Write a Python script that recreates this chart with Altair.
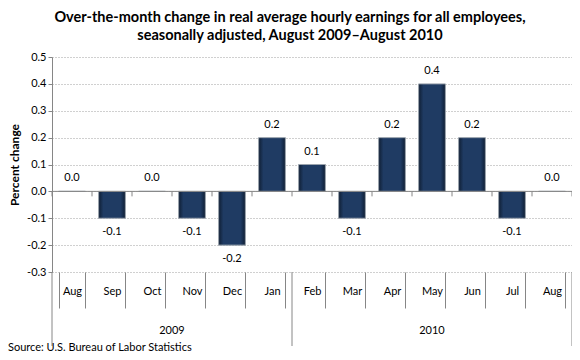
import altair as alt
import pandas as pd
import json

# ---- data ----
months = ["Aug", "Sep", "Oct", "Nov", "Dec", "Jan", "Feb", "Mar", "Apr", "May", "Jun", "Jul", "Aug"]
values = [0.0, -0.1, 0.0, -0.1, -0.2, 0.2, 0.1, -0.1, 0.2, 0.4, 0.2, -0.1, 0.0]
year_labels = ["2009", "2010"]
year_counts = [6, 7]
y_ticks = [-0.3, -0.2, -0.1, 0.0, 0.1, 0.2, 0.3, 0.4, 0.5]
title_lines = [
    "Over-the-month change in real average hourly earnings for all employees,",
    "seasonally adjusted, August 2009\u2013August 2010",
]
source_text = "Source: U.S. Bureau of Labor Statistics"

n = len(months)
df = pd.DataFrame({"idx": list(range(n)), "month": months, "value": values})
pos_df = df[df["value"] >= 0]
neg_df = df[df["value"] < 0]

starts, ends, s = [], [], 0
for c in year_counts:
    starts.append(s)
    ends.append(s + c)
    s += c
years_df = pd.DataFrame({"year": year_labels, "mid": [(a + b) / 2 for a, b in zip(starts, ends)]})
bounds_df = pd.DataFrame({"b": list(range(n + 1))})
sep_df = pd.DataFrame({"b": [0] + ends})
src_df = pd.DataFrame({"t": [source_text]})

W, H = 520, 215
PI = 0.33
FONT = "Lato"
GRAY = "#868686"
MINUS_FIX = "replace(format(datum.value, '.1f'), '\u2212', '-')"

label_expr = json.dumps(months) + "[datum.value]"

xband = alt.X(
    "idx:O",
    scale=alt.Scale(paddingInner=PI, paddingOuter=PI / 2),
    axis=alt.Axis(
        title=None, labelExpr=label_expr, labelAngle=0, tickBand="extent",
        tickSize=36, tickColor=GRAY, domain=False, labelPadding=-17,
        labelFontSize=11, labelColor="#000000", labelFont=FONT, grid=False,
        labelBaseline="middle",
    ),
)
yq = alt.Y(
    "value:Q",
    scale=alt.Scale(domain=[-0.3, 0.5], nice=False, zero=False),
    axis=alt.Axis(
        title="Percent change", values=y_ticks, tickCount=len(y_ticks), labelExpr=MINUS_FIX,
        grid=True, labelOverlap=False,
        gridDash=[1, 2], gridColor="#a0a0a0", domainColor=GRAY, tickColor=GRAY,
        tickSize=4, labelFontSize=11, labelFont=FONT, labelColor="#000000",
        titleFont=FONT, titleFontSize=12, titleFontWeight="bold", titleColor="#000000",
        titlePadding=5,
    ),
)

grad = alt.Gradient(
    gradient="linear", x1=0, x2=1, y1=0, y2=0,
    stops=[
        alt.GradientStop(color="#0f1e33", offset=0),
        alt.GradientStop(color="#1f3b63", offset=0.18),
        alt.GradientStop(color="#1f3b63", offset=0.82),
        alt.GradientStop(color="#0f1e33", offset=1),
    ],
)

bars = alt.Chart(df).mark_bar(fill=grad, stroke="#9aa3ad", strokeWidth=1).encode(x=xband, y=yq)

pos_lbl = alt.Chart(pos_df).transform_calculate(lbl=MINUS_FIX).mark_text(
    dy=-13, fontSize=11, font=FONT, color="#000000").encode(
    x=alt.X("idx:O"), y=alt.Y("value:Q"), text="lbl:N")
neg_lbl = alt.Chart(neg_df).transform_calculate(lbl=MINUS_FIX).mark_text(
    dy=14, fontSize=11, font=FONT, color="#000000").encode(
    x=alt.X("idx:O"), y=alt.Y("value:Q"), text="lbl:N")

band_layer = alt.layer(bars, pos_lbl, neg_lbl)

xq = alt.X("b:Q", scale=alt.Scale(domain=[0, n], nice=False, zero=False), axis=None)

zero_line = alt.Chart(src_df).mark_rule(color=GRAY, strokeWidth=1).encode(y=alt.datum(0))
zero_ticks = alt.Chart(bounds_df).mark_rule(color=GRAY, strokeWidth=1, y2Offset=5).encode(
    x=xq, y=alt.datum(0), y2=alt.datum(0))
year_seps = alt.Chart(sep_df).mark_rule(color=GRAY, strokeWidth=1).encode(
    x=xq, y=alt.value(H), y2=alt.value(H + 74))
year_txt = alt.Chart(years_df).mark_text(fontSize=11, font=FONT, color="#000000", baseline="middle").encode(
    x=alt.X("mid:Q", scale=alt.Scale(domain=[0, n], nice=False, zero=False), axis=None),
    y=alt.value(H + 59), text="year:N")
src = alt.Chart(src_df).mark_text(fontSize=11, font=FONT, color="#000000", align="left", baseline="middle").encode(
    x=alt.value(-44), y=alt.value(H + 76), text="t:N")

over_layer = alt.layer(zero_ticks, year_seps, year_txt)

chart = alt.layer(band_layer, zero_line, over_layer, src).resolve_scale(x="independent").properties(
    width=W, height=H,
    title=alt.TitleParams(text=title_lines, fontSize=14.5, font=FONT, fontWeight="bold",
                          anchor="middle", dx=-22, offset=8, lineHeight=18, color="#000000"),
    autosize=alt.AutoSizeParams(type="none"),
    padding={"left": 44, "top": 49, "right": 0, "bottom": 80},
).configure_view(stroke=None)

chart.save("out.html", embed_options={"renderer": "svg", "actions": False})
